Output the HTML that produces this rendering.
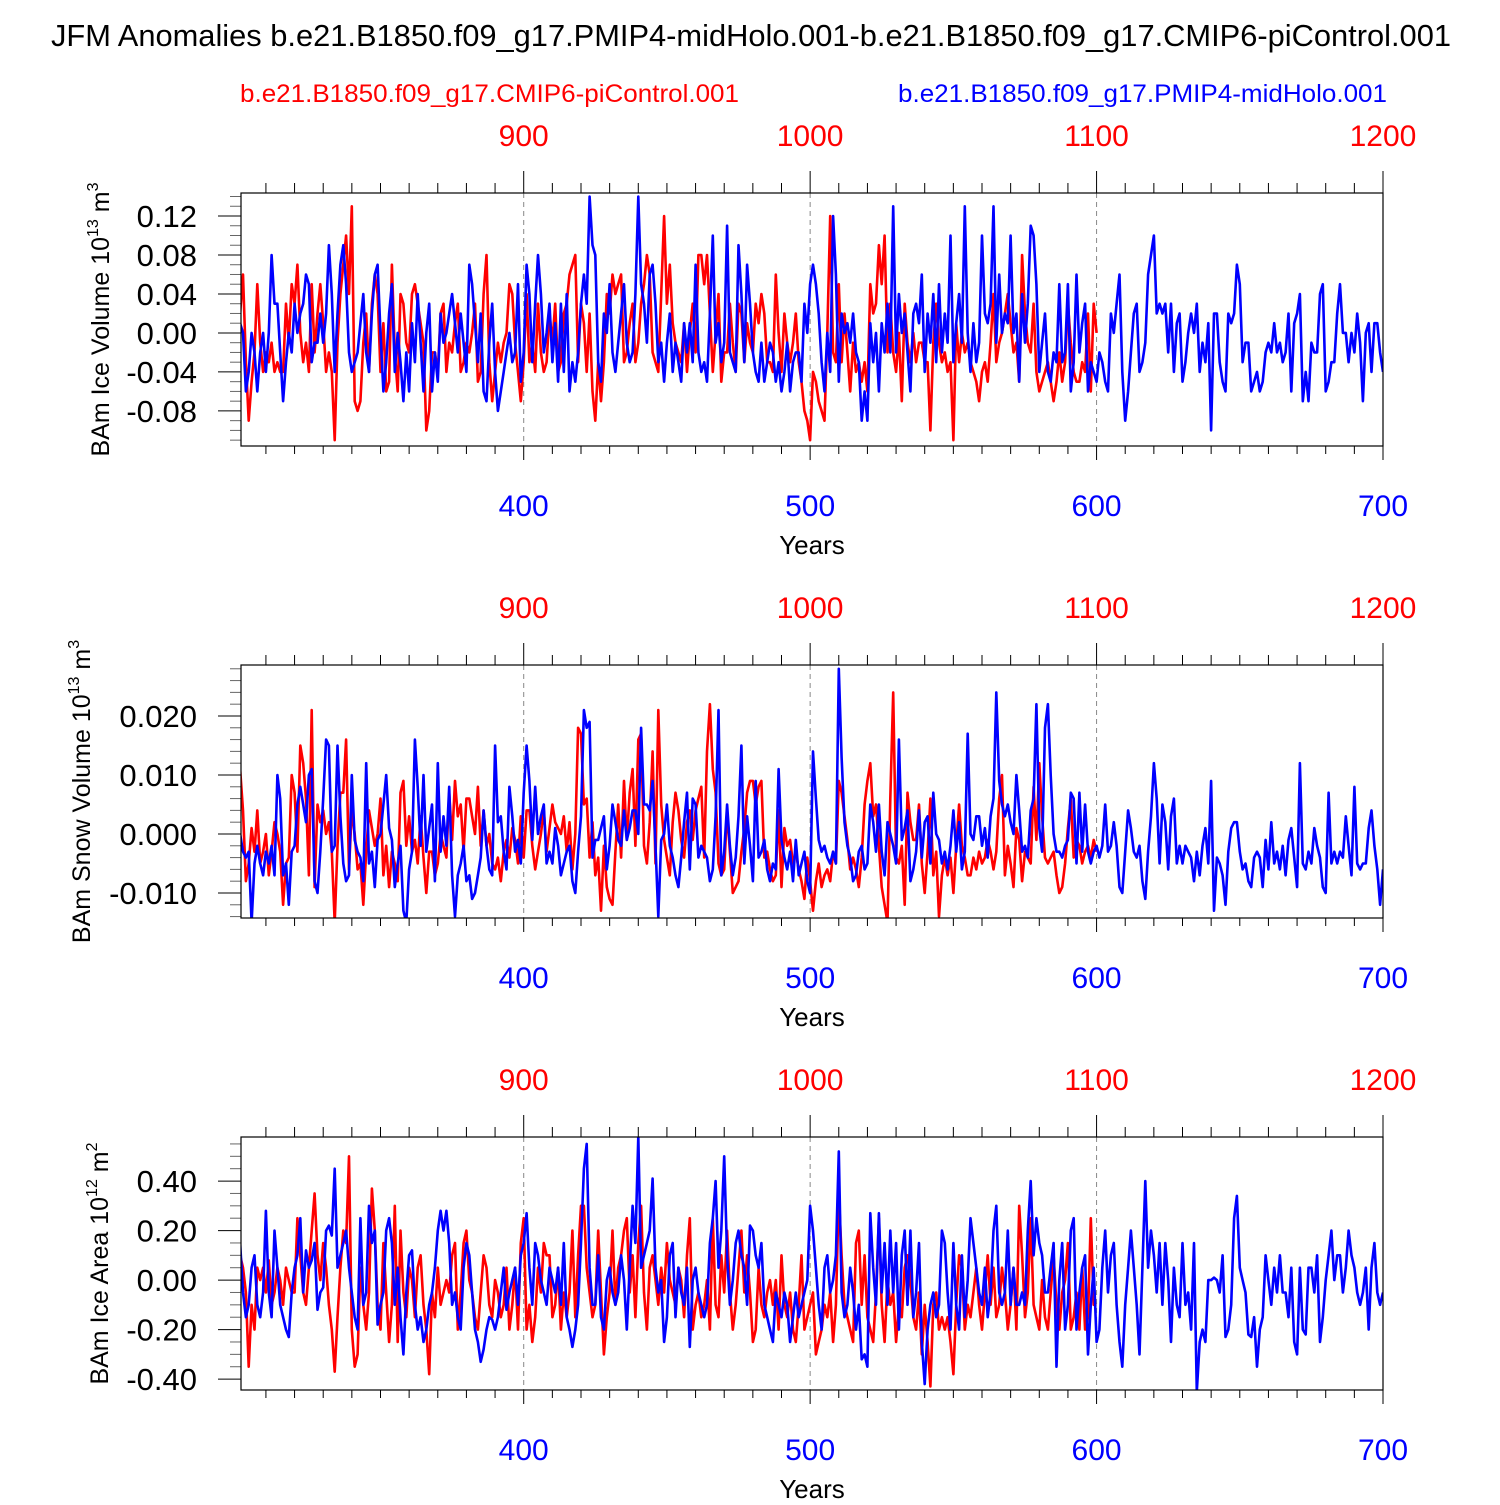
<!DOCTYPE html>
<html><head><meta charset="utf-8"><style>
html,body{margin:0;padding:0;background:#fff}
svg text{font-family:"Liberation Sans",sans-serif}
</style></head><body>
<svg id="chart" width="1500" height="1500" viewBox="0 0 1500 1500" xmlns="http://www.w3.org/2000/svg">
<text x="751" y="46" font-size="30.5" text-anchor="middle" textLength="1400" lengthAdjust="spacingAndGlyphs">JFM Anomalies b.e21.B1850.f09_g17.PMIP4-midHolo.001-b.e21.B1850.f09_g17.CMIP6-piControl.001</text>
<text x="240" y="102" font-size="25" fill="#ff0000" textLength="499" lengthAdjust="spacingAndGlyphs">b.e21.B1850.f09_g17.CMIP6-piControl.001</text>
<text x="898" y="102" font-size="25" fill="#0000ff" textLength="489" lengthAdjust="spacingAndGlyphs">b.e21.B1850.f09_g17.PMIP4-midHolo.001</text>
</svg>
<script>
const blueYears0 = 301;
const redYears0 = 801;
const iceVolBlue = [1,0,-6,-4,0,-2,-6,-2,0,-4, 0,8,3,3,-2,-7,-3,0,-2,3, 0,2,3,6,5,-3,-1,-1,2,-1, 2,9,4,-4,2,7,9,5,-2,-4, -3,-2,1,4,-2,-4,2,6,7,0, -6,-3,2,5,-4,0,-3,-7,-2,-6, 1,-3,4,-1,-6,0,3,-6,-2,-5, 2,-1,0,2,4,1,-2,2,-1,-4, 7,5,1,-3,2,-6,-7,-1,3,-4, -8,-6,-4,-2,0,-3,-2,5,-5,-2, 7,4,-3,3,8,4,-2,0,3,-3, 1,-5,3,-4,4,-6,-3,-5,-2,3, 6,3,14,9,8,-3,-5,2,0,5, -2,-4,-1,2,5,-1,-3,-2,4,14, 5,3,-1,6,7,3,-3,-1,-5,-1, 2,-4,-1,-3,-5,1,-2,1,-3,7, -2,-4,-3,-5,2,10,-1,1,-3,-1, 11,-2,-3,-4,9,4,-3,7,3,-2, -4,-5,-1,-5,-3,-1,-2,-5,-3,-6, -4,-1,-6,-3,-2,-2,-5,3,0,5, 7,5,2,-3,-6,0,-4,12,6,-5, 2,0,1,-1,2,-2,-3,-9,-6,-9, 1,-3,0,-6,1,-2,3,-2,13,-2, 4,0,2,-2,-6,2,3,1,6,-4, 2,-1,4,-3,5,-2,2,-1,10,-3, 1,4,-1,13,0,-4,1,-3,-1,10, 2,1,3,13,-1,6,0,2,1,10, 0,2,-5,4,-1,3,11,10,5,-4, -1,2,-4,-5,-2,-3,5,-3,-2,5, -6,-3,6,-2,1,3,-6,-3,-4,-5, -2,-3,-5,-6,2,0,3,6,-4,-9, -6,-2,2,3,-4,-3,-1,6,8,10, 2,3,2,3,-2,3,-4,1,2,-5, -3,0,2,0,3,-4,-1,-3,1,-10, 2,2,-3,-5,-6,2,1,2,7,5, -3,-1,-1,-6,-5,-4,-6,-5,-2,-1, -2,1,-2,-1,-3,-2,2,-6,1,2, 4,-7,-4,-7,-1,-2,-2,4,5,-6, -5,-3,-3,2,5,0,0,-3,0,-2, 2,-1,-7,0,1,-4,1,1,-2,-4].map(v=>v*0.01);
const iceVolRed = [2,6,-3,-9,-5,-2,5,-1,-4,-2, -3,-1,-4,-3,-4,-4,3,-1,5,3, 7,0,-3,-1,-4,5,-2,2,5,1, -4,-2,-4,-11,-1,4,7,10,4,13, -7,-8,-7,-1,2,-4,3,6,4,-4, 1,-6,-5,7,-2,-6,4,3,-1,-2, 4,5,3,1,-1,-10,-8,-2,-2,-4, 2,3,-4,-1,-2,1,3,-4,-3,-1, -2,0,3,-5,-4,4,8,-3,-7,-4, -1,-3,-1,0,5,4,-1,-4,-7,-3, 4,-3,-1,-4,3,-2,-4,-3,2,-1, 3,-4,-3,2,3,6,7,8,-3,3, 1,-4,2,-6,-9,-3,-7,-3,4,2, 6,4,5,6,-3,-2,1,3,-3,-1, 3,5,8,6,-2,-3,-4,4,12,3, 7,1,-1,-2,-3,1,-4,0,3,-2, 8,8,5,8,2,-4,0,4,-5,-2, -2,3,-1,-4,3,2,-3,1,-1,-2, 3,1,4,2,-3,-3,-4,6,0,-4, 2,-1,-3,-1,2,-3,-5,-8,-9,-11, -4,-5,-7,-8,-9,0,12,-2,-3,5, -3,2,-2,-6,-1,-4,-3,-5,-3,-6, 5,2,3,9,5,10,-2,3,-2,-4, 0,-7,3,-1,-3,0,-3,-1,-1,-3, -3,-10,-1,3,-1,-3,-2,-4,-3,-11, 1,-3,0,-2,-1,-3,-4,-5,-7,-4, -3,-5,-1,4,-3,-1,0,2,4,1, -2,-1,-5,8,2,-1,-2,3,-4,-6, -5,-4,-3,-5,-7,-5,-2,-5,-3,3, -1,-4,-5,-5,-3,-4,2,-6,3,0].map(v=>v*0.01);
const snowVolBlue = [0,-3,-4,-3,-15,-5,-2,-5,-7,-3, -5,-2,-7,10,6,-7,-5,-12,-3,-2, 5,8,5,2,10,11,-8,-10,-3,6, 16,15,-3,-2,15,3,-5,-8,-7,10, -1,-3,-4,-8,12,-5,-3,-9,-1,0, 5,10,1,-1,-9,-5,-2,-13,-15,-6, -3,16,8,-2,10,-3,1,5,-8,12, -3,3,-2,8,-7,-14,-7,-5,-2,-8, -7,-11,-10,-7,-4,4,-2,-6,-7,15, 2,3,-3,-6,8,3,-3,-1,-5,7, 15,9,-1,8,0,3,5,-5,-3,-5, 1,-2,-7,-5,-3,-2,-8,-10,-3,3, 21,18,19,-4,-1,-1,1,3,-6,-2, 5,2,-1,-2,4,-1,1,4,4,0, 18,5,5,4,9,-2,-14,-1,0,5, -2,-4,-7,-9,-4,2,7,-6,6,5, -4,-2,-3,-4,-8,-6,3,21,-7,-3, 5,-2,-7,-4,3,15,-5,3,-2,-8, 9,-4,-3,-1,-6,-8,-5,-6,11,-1, -4,-6,-3,-8,-1,-7,-5,-3,-8,-10, 14,6,-1,-3,-2,-4,-5,-3,-5,28, 13,2,-2,-4,-8,-7,-3,-2,-6,-5, 5,2,-3,5,-3,-7,2,0,-2,-5, 16,-1,1,4,-8,-6,-3,4,-4,2, 3,-5,7,0,-1,-5,-3,-6,-2,4, -3,2,-6,-3,17,0,-1,3,3,-2, 1,-4,3,6,24,9,5,3,5,2, 0,10,4,-3,-2,-4,4,6,22,1, -3,18,22,10,0,-3,-3,-4,-2,-1, 7,6,-5,7,-3,5,-3,-5,-3,-2, -4,-2,5,-3,-2,2,-2,-9,-10,-3, 4,1,-3,-4,-2,-8,-11,-3,3,12, 6,-5,5,2,-6,3,6,-5,-2,-5, -2,-3,-4,-8,-3,-7,-2,1,-5,9, -13,-4,-5,-7,-12,-3,1,2,2,-3, -6,-5,-8,-9,-4,-3,-4,-9,-1,-6, 2,-5,-3,-6,-2,-7,-1,1,-4,-9, 12,-5,-6,-3,-5,1,-2,-4,-9,-10, 7,-5,-3,-5,-3,-4,3,-2,-7,8, -5,-6,-5,-5,1,4,-2,-6,-12,-6].map(v=>v*0.001);
const snowVolRed = [11,4,-8,-5,1,-3,4,-5,-3,0, -7,-3,2,0,-3,-12,-5,-4,10,7, -3,15,12,6,-7,21,-9,5,2,4, 0,2,-3,-15,-2,7,7,16,-6,4, 0,-6,-5,-12,-3,4,1,-2,0,6, -7,-2,-9,-3,-5,-8,7,9,-2,3, -3,-1,-5,3,-4,-10,-3,-3,-7,-5, 0,-2,-4,7,-1,9,3,5,-3,6, 6,3,0,8,-2,4,-2,0,-5,-6, -4,-8,-3,-1,-4,1,-1,-5,3,-4, 4,4,-2,-6,-3,0,4,-3,1,5, 2,1,0,3,-3,2,-6,0,18,17, 5,6,-4,2,-7,-4,-13,-2,-9,-11, -12,-3,5,-4,9,-1,7,11,-2,16, 17,-2,-5,2,14,-5,21,5,-1,-4, -7,2,7,4,-1,-4,2,4,-1,4, 6,8,-4,14,22,11,7,-5,-7,-6, 4,-3,-10,-9,-8,-3,1,7,9,9, 5,8,9,-4,-3,-6,-8,-7,4,-9, 1,-2,-1,-5,-3,-6,-8,-11,-4,-8, -13,-8,-5,-9,-7,-6,-8,-3,-5,9, 7,3,-1,-6,-4,-6,-9,-4,5,9, 12,3,5,-2,-9,-12,-15,6,24,-4, -5,-2,-12,7,2,-1,-1,5,-5,-10, -3,6,-7,-3,-14,-7,-4,-7,-4,-10, -2,5,-2,-4,-7,-7,-4,-6,-3,-5, -4,-1,-3,-6,-3,6,10,-7,-2,-5, -9,1,-1,-8,-3,-4,-5,8,-1,12, 3,-4,-5,-4,-3,-7,-10,-9,-5,1, 6,-4,-1,-2,-5,-3,-2,-4,-1,-3].map(v=>v*0.001);
const iceAreaBlue = [15,-5,-15,-10,5,10,-10,-15,-5,28, -5,-15,20,5,-10,-15,-20,-23,-5,5, 10,25,-5,12,5,8,15,-12,-5,-3, 20,22,18,45,5,10,15,20,5,-5, -15,-20,25,-10,-5,30,15,20,-18,-10, -5,20,25,15,-10,5,-15,-30,-5,10, 12,-10,-20,-15,-25,-20,-10,-5,5,20, 28,20,28,15,-10,-5,-15,-20,5,15, 10,-5,-20,-25,-33,-28,-20,-15,-16,-20, -15,-5,5,-12,-5,0,5,-10,10,15, 27,5,-10,15,10,0,-5,-10,5,0, -5,5,-10,15,-15,-20,-27,-20,-10,15, 45,55,5,-10,-10,10,-15,-20,0,5, -5,-10,-5,10,0,-20,5,30,15,58, 5,10,15,20,41,5,-5,0,-25,-15, 10,15,-15,5,-5,-10,5,-27,0,5, -5,-10,-15,-10,15,25,40,5,20,50, 10,-10,0,15,20,10,5,-10,22,20, 10,5,15,-10,-15,-20,-25,-5,-10,-15, -5,-10,-25,-15,-5,-15,-10,-5,0,30, 20,5,-10,-20,5,10,-5,0,10,52, -5,-15,-10,5,-5,-20,-10,-32,-30,-35, 27,5,-10,27,-5,15,-10,20,-5,15, -20,10,20,-10,20,-15,-5,15,-25,-42, -20,-10,-5,-15,-10,20,15,-5,-20,15, -10,-20,10,-15,0,25,15,5,-5,-10, 5,-15,-5,20,30,-5,-10,-5,20,-10, 5,-10,-10,-5,-10,20,40,10,25,15, 10,-5,-5,5,15,-35,0,15,-20,-10, 20,25,-20,-5,5,10,-30,-10,5,-25, -20,5,20,-5,10,15,-10,-25,-35,-10, 5,20,5,-10,-30,5,40,5,20,10, -5,15,-10,15,0,-25,5,-10,-15,15, -10,-5,-20,15,-45,-25,-20,-25,0,0, 1,0,-5,10,-23,-20,-10,25,34,5, 0,-5,-22,-23,-15,-35,-20,-15,10,0, -10,5,-5,10,-5,-5,-15,5,-25,-30, 5,-20,-22,5,5,-5,10,-25,-15,0, 10,20,0,10,10,-5,5,20,10,5, -5,-10,-5,5,-20,5,15,-5,-10,-5].map(v=>v*0.01);
const iceAreaRed = [10,5,-5,-35,-10,-20,5,0,5,-5, 8,-10,-5,5,0,-10,5,0,-5,-5, 25,10,-5,-10,5,20,35,10,0,15, 5,-10,-20,-37,-15,5,20,15,50,-20, -35,-30,5,-10,-20,-5,37,20,-10,-20, 15,-5,-25,-10,30,-25,20,-5,-15,5, 0,-15,5,10,-10,-20,-38,-5,-15,5, -10,-5,0,-5,10,15,-20,-5,15,20, 0,-5,-15,-20,-5,10,5,-10,-15,0, -5,-15,-10,5,-20,-10,5,-20,15,25, -20,-10,-25,-15,5,-5,15,10,10,-15, -10,5,-20,-5,-15,-5,20,-15,10,30, 30,5,-5,-15,-10,20,-5,-30,-15,-5, 20,-10,5,10,20,25,-5,10,-15,15, 30,-5,-20,5,10,0,-10,5,-5,15, 0,-5,-10,5,0,-15,10,25,-20,-10, -5,-15,-10,0,-20,25,-10,-15,10,-5, 20,-5,-20,-10,5,20,-5,10,-5,-25, -20,5,-10,-15,-5,0,-10,0,-20,10, -10,-15,-5,-20,-25,-10,10,-20,-15,-10, -5,-30,-25,-20,-10,-15,-5,-25,-10,35, 10,-10,-15,-20,-25,15,20,-10,10,-15, -20,-25,-5,25,-10,-25,0,-10,-5,-25, -10,-15,5,10,0,-15,-20,-5,-30,-10, -25,-43,-10,-5,-20,-15,-20,-15,-25,-38, -10,10,5,-20,-10,-15,-5,5,-10,-20, -5,10,-10,5,-15,-10,5,-5,-20,-10, 5,-20,30,10,-15,-5,25,-10,-15,-20, 0,-15,-20,-5,10,-10,-20,-5,0,15, -20,-15,-5,-20,5,-20,-15,25,-10,-10].map(v=>v*0.01);
const bottomTicks = [400,500,600,700];
const topTicks = [900,1000,1100,1200];
const iceVolTicks = [-0.08,-0.04,0.00,0.04,0.08,0.12];
const snowVolTicks = [-0.010,0.000,0.010,0.020];
const iceAreaTicks = [-0.40,-0.20,0.00,0.20,0.40];

const NS='http://www.w3.org/2000/svg';
const svg=document.getElementById('chart');
function mk(tag,attrs,parent){const e=document.createElementNS(NS,tag);for(const k in attrs)e.setAttribute(k,attrs[k]);(parent||svg).appendChild(e);return e;}
const X0=241,X1=1383,YR0=301.3,YR1=700;
function xScale(yr){return X0+(yr-YR0)/(YR1-YR0)*(X1-X0);}

const panels=[
 {top:193,bottom:446,ymin:-0.116,ymax:0.1436,ticks:iceVolTicks,dec:2,minor:0.01,blue:iceVolBlue,red:iceVolRed,name:'ice-volume',title:'BAm Ice Volume 10',sup1:'13',unit:' m',sup2:'3',tx:100},
 {top:665,bottom:918,ymin:-0.01424,ymax:0.02864,ticks:snowVolTicks,dec:3,minor:0.002,blue:snowVolBlue,red:snowVolRed,name:'snow-volume',title:'BAm Snow Volume 10',sup1:'13',unit:' m',sup2:'3',tx:81},
 {top:1137,bottom:1390,ymin:-0.444,ymax:0.578,ticks:iceAreaTicks,dec:2,minor:0.05,blue:iceAreaBlue,red:iceAreaRed,name:'ice-area',title:'BAm Ice Area 10',sup1:'12',unit:' m',sup2:'2',tx:99}
];
panels.forEach(p=>{
 const g=mk('g',{});
 
 
 const yS=v=>p.bottom-(v-p.ymin)/(p.ymax-p.ymin)*(p.bottom-p.top);
 [400,500,600].forEach(yr=>{const l=mk('line',{x1:xScale(yr),x2:xScale(yr),y1:p.top,y2:p.bottom,stroke:'#888','stroke-width':1,'stroke-dasharray':'5,4'},g);
  });
 for(let yr=310;yr<=700;yr+=10){const maj=yr%100===0;const x=xScale(yr);
  mk('line',{x1:x,x2:x,y1:p.bottom,y2:p.bottom+(maj?14:8),stroke:'#000','stroke-width':1},g);
  mk('line',{x1:x,x2:x,y1:p.top,y2:p.top-(maj?22:10),stroke:'#000','stroke-width':1},g);}
 bottomTicks.forEach(t=>{const e=mk('text',{x:xScale(t),y:p.bottom+70,'font-size':30,fill:'#0000ff','text-anchor':'middle'},g);e.textContent=t;
  });
 topTicks.forEach(t=>{const e=mk('text',{x:xScale(t-500),y:p.top-47,'font-size':30,fill:'#ff0000','text-anchor':'middle'},g);e.textContent=t;
  });
 const yt=mk('text',{x:812,y:p.bottom+108,'font-size':26,'text-anchor':'middle'},g);yt.textContent='Years';
 
 const n0=Math.ceil(p.ymin/p.minor-1e-6),n1=Math.floor(p.ymax/p.minor+1e-6);
 for(let n=n0;n<=n1;n++){const v=n*p.minor;const y=yS(v);const maj=p.ticks.some(t=>Math.abs(t-v)<p.minor/10);
  mk('line',{x1:X0,x2:X0-(maj?23:11),y1:y,y2:y,stroke:maj?'#000':'#666','stroke-width':1},g);}
 p.ticks.forEach(t=>{const e=mk('text',{x:197,y:yS(t)+11,'font-size':31,'text-anchor':'end'},g);e.textContent=t.toFixed(p.dec);
  });
 const cy=(p.top+p.bottom)/2;
 const tt=mk('text',{x:0,y:0,'font-size':25,'text-anchor':'middle',transform:`translate(${p.tx+9},${cy}) rotate(-90)`},g);
 
 tt.appendChild(document.createTextNode(p.title));
 const s1=mk('tspan',{'font-size':16,dy:-11},tt);s1.textContent=p.sup1;
 const s2=mk('tspan',{dy:11},tt);s2.textContent=p.unit;
 const s3=mk('tspan',{'font-size':16,dy:-11},tt);s3.textContent=p.sup2;
 const cp=mk('clipPath',{id:'clip-'+p.name},g);mk('rect',{x:X0,y:p.top,width:X1-X0,height:p.bottom-p.top},cp);
 const line=(arr,col,nm)=>{const d=arr.map((v,i)=>(i?'L':'M')+xScale(blueYears0+i).toFixed(1)+','+yS(v).toFixed(1)).join('');
  const e=mk('path',{d:d,fill:'none',stroke:col,'stroke-width':2.6,'stroke-linejoin':'round','clip-path':`url(#clip-${p.name})`},g);
  };
 line(p.red,'#ff0000','series-picontrol');
 line(p.blue,'#0000ff','series-midholo');
 const fr=mk('rect',{x:X0,y:p.top,width:X1-X0,height:p.bottom-p.top,fill:'none',stroke:'#000','stroke-width':1.2},g);
 
});
</script>
</body></html>
